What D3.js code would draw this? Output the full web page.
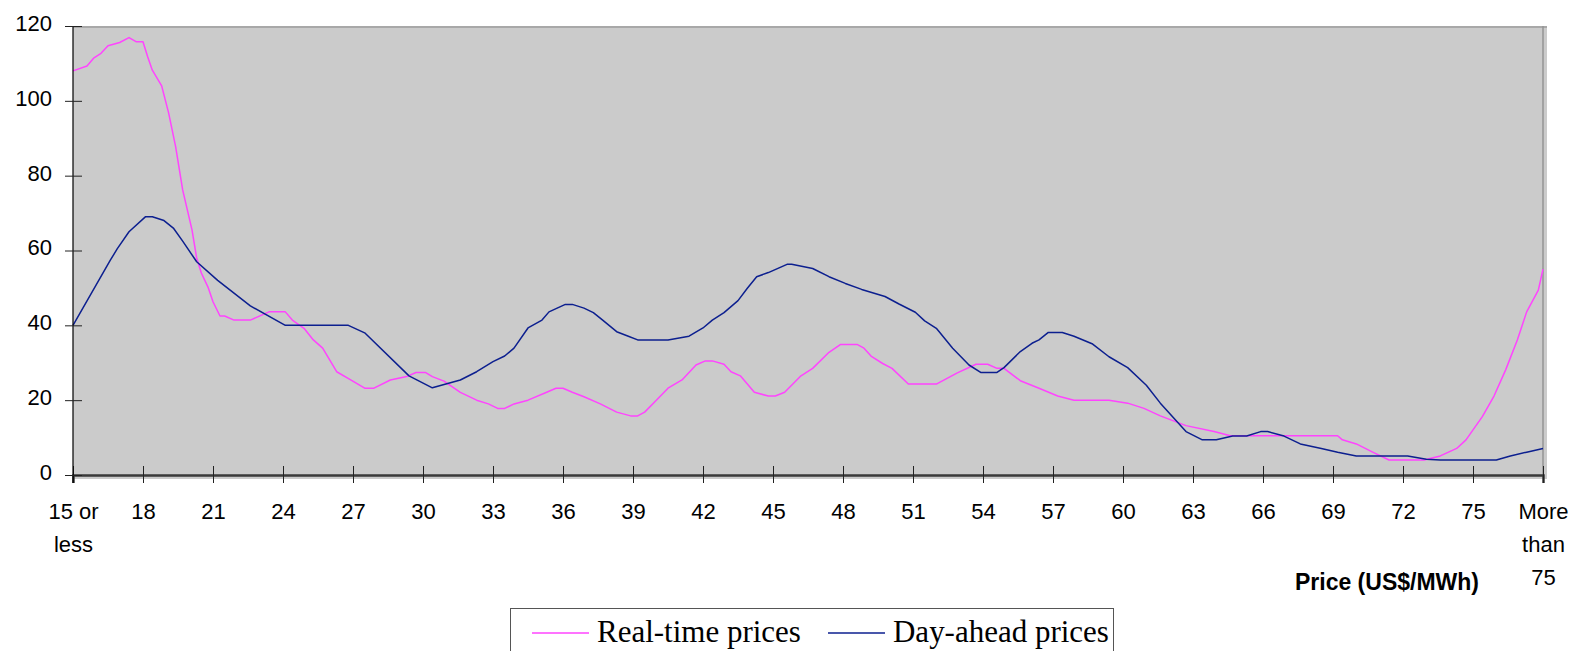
<!DOCTYPE html>
<html lang="en">
    <head>
        <meta charset="utf-8">
        <title>Real-time vs day-ahead prices</title>
        <script type="text/javascript" src="https://d3js.org/d3.v7.min.js"></script>
        <style type="text/css">
            body { margin: 0; background: #fff; }
            text { font-family: "Liberation Sans", Arial, sans-serif; fill: #000; }
            text.legend-label { font-family: "Liberation Serif", "Times New Roman", serif; }
        </style>
    </head>
    <body>
        <script type="text/javascript">

                const width = 1574;
                const height = 651;

                // real-time prices (price, count)
                const rtPrice = [15.0,15.6,15.9,16.2,16.5,17.0,17.4,17.7,18.0,18.2,18.4,18.8,19.1,19.4,19.7,20.1,20.3,20.5,20.8,21.0,21.3,21.5,21.9,22.6,23.4,24.1,24.4,24.9,25.3,25.7,26.3,26.9,27.5,27.9,28.6,29.3,29.7,30.1,30.4,30.9,31.6,32.3,32.8,33.2,33.5,33.9,34.5,35.3,35.7,36.0,36.4,36.9,37.6,38.3,38.9,39.2,39.5,40.0,40.5,41.1,41.7,42.1,42.4,42.9,43.2,43.6,44.2,44.8,45.1,45.5,46.2,46.7,47.4,47.9,48.6,48.9,49.2,49.7,50.1,50.8,52.0,52.9,53.7,54.2,54.6,54.9,55.6,56.4,57.2,57.9,59.4,60.2,60.9,61.6,62.7,63.9,64.6,69.2,69.4,70.0,70.7,71.4,72.9,73.6,74.3,74.7,75.4,75.9,76.4,76.9,77.3,77.8,78.0];
                const rtValue = [108,109.3,111.5,112.7,114.7,115.6,116.9,115.8,115.8,111.8,108.2,104,96.7,87.7,76.2,65.5,58,54,50,46.3,42.5,42.5,41.4,41.4,43.6,43.6,41.4,39.2,36.1,33.9,27.6,25.4,23.2,23.2,25.4,26.3,27.4,27.4,26.3,25.1,22.1,20,19,17.8,17.8,19,20,22.1,23.2,23.2,22.1,20.9,19,16.8,15.8,15.8,16.8,20,23.2,25.4,29.4,30.5,30.5,29.6,27.6,26.5,22.1,21.1,21.1,22.1,26.5,28.5,32.8,34.9,34.9,33.9,31.8,29.8,28.5,24.3,24.3,27.3,29.6,29.6,28.5,28.5,25.2,23.2,21.1,20,20,19.2,17.8,15.8,13.2,11.6,10.5,10.5,9.4,8.3,6.1,4,4,5.1,7.1,9.4,15.6,21.1,28.1,36.1,43.6,49.4,55];

                // day-ahead prices
                const daPrice = [15.0,16.6,16.9,17.4,18.1,18.4,18.9,19.3,19.7,20.3,21.2,22.6,24.1,26.8,27.5,29.4,30.4,31.6,32.3,33.0,33.5,33.9,34.5,35.1,35.4,36.1,36.4,36.9,37.3,37.7,38.3,38.8,39.2,40.5,41.4,42.0,42.4,42.9,43.5,43.9,44.3,44.8,45.6,45.8,46.7,47.4,48.1,48.8,49.8,50.4,51.1,51.5,52.0,52.7,53.4,53.9,54.6,54.9,55.6,56.1,56.4,56.8,57.4,57.9,58.7,59.4,60.2,61.0,61.6,62.7,63.4,64.0,64.7,65.3,65.9,66.2,66.9,67.6,68.5,69.2,70.0,72.2,73.0,73.6,76.0,76.6,77.3,78.0];
                const daValue = [40,57.4,60.5,65,69,69,68,66,62.5,57,52,45.2,40,40,38,26.5,23.3,25.4,27.6,30.3,31.8,33.9,39.3,41.4,43.6,45.6,45.6,44.6,43.4,41.4,38.3,37.1,36.1,36.1,37.1,39.3,41.4,43.4,46.6,49.9,53,54.1,56.3,56.3,55.2,53,51.2,49.6,47.7,45.7,43.5,41.2,39.2,33.9,29.4,27.4,27.4,28.7,33,35.2,36.1,38.1,38.1,37.1,35,31.6,28.7,24,19.2,11.6,9.4,9.4,10.4,10.4,11.6,11.6,10.4,8.3,7.1,6.1,5.1,5.1,4.2,4,4,5.1,6.1,7.1];

                // axis ticks and labels
                const xTicks = [15,18,21,24,27,30,33,36,39,42,45,48,51,54,57,60,63,66,69,72,75,78];
                const xLabels = ["15 or\nless","18","21","24","27","30","33","36","39","42","45","48","51","54","57","60","63","66","69","72","75","More\nthan\n75"];
                const yTicks = [0,20,40,60,80,100,120];

                const seriesNames = ["Real-time prices", "Day-ahead prices"];
                const seriesColors = ["#ff44ff", "#0c1f8f"];

                const series = [
                    rtPrice.map((p, i) => ({p: p, v: rtValue[i]})),
                    daPrice.map((p, i) => ({p: p, v: daValue[i]}))
                ];

                const plotLeft = 73, plotRight = 1543, plotTop = 26, plotBottom = 475;

                const xScale = d3.scaleLinear()
                                 .domain([15, 78])
                                 .range([plotLeft, plotRight]);

                const yScale = d3.scaleLinear()
                                 .domain([0, 120])
                                 .range([plotBottom, plotTop]);

                const svg = d3.select("body")
                              .append("svg")
                              .attr("width", width)
                              .attr("height", height);

                // plot area
                svg.append("rect")
                   .attr("x", plotLeft)
                   .attr("y", plotTop)
                   .attr("width", plotRight - plotLeft + 4)
                   .attr("height", plotBottom - plotTop + 4)
                   .attr("fill", "#cbcbcb");

                svg.append("line")
                   .attr("x1", plotLeft).attr("x2", plotRight + 4)
                   .attr("y1", plotTop + 1).attr("y2", plotTop + 1)
                   .attr("stroke", "#a8a8a8").attr("stroke-width", 2);

                svg.append("line")
                   .attr("x1", plotRight).attr("x2", plotRight)
                   .attr("y1", plotTop).attr("y2", plotBottom)
                   .attr("stroke", "#959595").attr("stroke-width", 1.5);

                // lines
                const line = d3.line()
                               .x(d => xScale(d.p))
                               .y(d => yScale(d.v));

                svg.selectAll(".series")
                   .data(series)
                   .enter()
                   .append("path")
                   .attr("class", "series")
                   .attr("d", line)
                   .attr("fill", "none")
                   .attr("stroke", (d, i) => seriesColors[i])
                   .attr("stroke-width", 1.5)
                   .attr("stroke-linejoin", "round");

                // bottom axis
                const bottomAxis = d3.axisBottom(xScale)
                                     .tickValues(xTicks)
                                     .tickSize(8)
                                     .tickFormat("");

                const gx = svg.append("g")
                              .attr("transform", "translate(0," + plotBottom + ")")
                              .call(bottomAxis);
                gx.select(".domain").attr("stroke", "#3a3a3a").attr("stroke-width", 2.5);
                gx.selectAll(".tick line").attr("y1", -9).attr("y2", 8).attr("stroke", "#222");

                gx.selectAll(".tick")
                  .append("text")
                  .attr("text-anchor", "middle")
                  .attr("font-size", 22)
                  .attr("fill", "#000")
                  .each(function(d, i) {
                      const lines = xLabels[i].split("\n");
                      d3.select(this).selectAll("tspan")
                        .data(lines)
                        .enter()
                        .append("tspan")
                        .attr("x", 0)
                        .attr("y", (l, j) => 44 + j * 33)
                        .text(l => l);
                  });

                // left axis
                const leftAxis = d3.axisLeft(yScale)
                                   .tickValues(yTicks)
                                   .tickSize(8)
                                   .tickPadding(13);

                const gy = svg.append("g")
                              .attr("transform", "translate(" + plotLeft + ",0)")
                              .call(leftAxis);
                gy.select(".domain").attr("stroke", "#000").attr("stroke-width", 1.2)
                  .attr("d", "M0," + plotTop + "V" + (plotBottom + 8));
                gy.selectAll(".tick line").attr("x2", -8).attr("x1", 9).attr("stroke", "#222");
                gy.selectAll(".tick text")
                  .attr("font-size", 22)
                  .attr("fill", "#000")
                  .attr("dy", "0.2em");

                // axis title
                svg.append("text")
                   .attr("x", 1479)
                   .attr("y", 590)
                   .attr("text-anchor", "end")
                   .attr("font-size", 23)
                   .attr("font-weight", "bold")
                   .text("Price (US$/MWh)");

                // legend
                const legend = svg.append("g");
                legend.append("rect")
                      .attr("x", 510.5).attr("y", 608.5)
                      .attr("width", 603).attr("height", 60)
                      .attr("fill", "#fff")
                      .attr("stroke", "#555");

                const legendX = [532, 828];
                seriesNames.forEach(function(name, i) {
                    legend.append("line")
                          .attr("x1", legendX[i]).attr("x2", legendX[i] + 57)
                          .attr("y1", 633).attr("y2", 633)
                          .attr("stroke", seriesColors[i])
                          .attr("stroke-width", 1.5);
                    legend.append("text")
                          .attr("class", "legend-label")
                          .attr("transform", "translate(" + (legendX[i] + 65) + ",642) scale(1,1.05)")
                          .attr("font-size", 31)
                          .text(name);
                });

        </script>
    </body>
</html>
